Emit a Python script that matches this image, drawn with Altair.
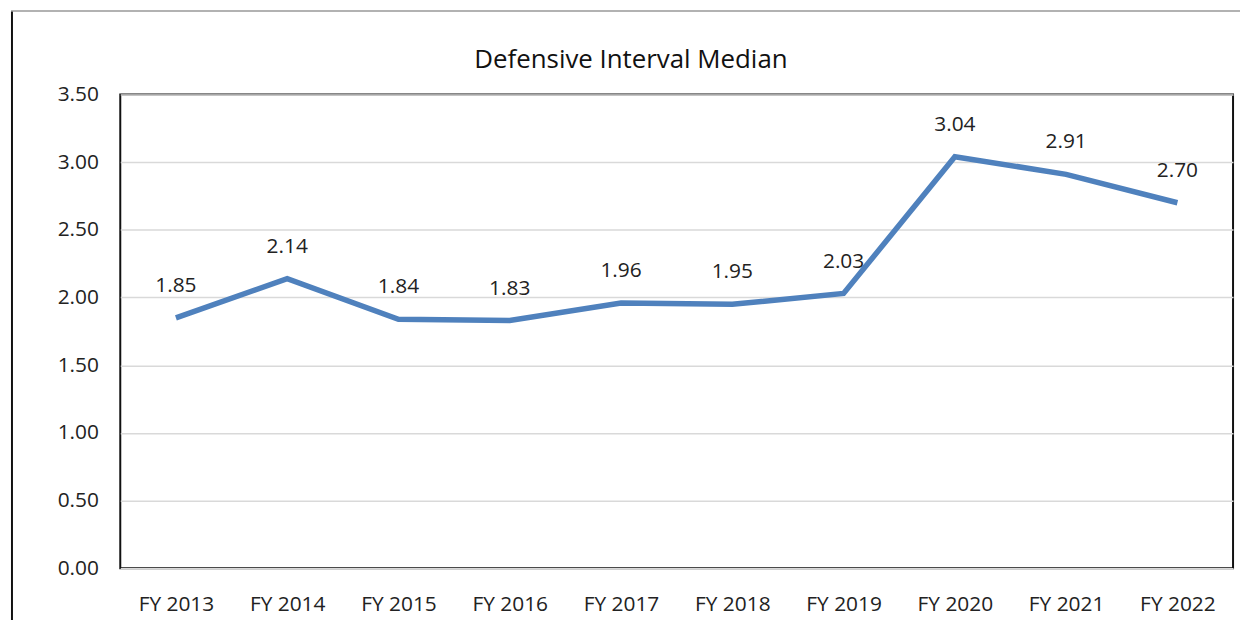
import altair as alt
import pandas as pd

years = ["FY 2013", "FY 2014", "FY 2015", "FY 2016", "FY 2017",
         "FY 2018", "FY 2019", "FY 2020", "FY 2021", "FY 2022"]
values = [1.85, 2.14, 1.84, 1.83, 1.96, 1.95, 2.03, 3.04, 2.91, 2.70]
y_ticks = [0, 0.5, 1.0, 1.5, 2.0, 2.5, 3.0, 3.5]
title_text = "Defensive Interval Median"

df = pd.DataFrame({"year": years, "value": values})

FONT = "Open Sans"
LINE_COLOR = "#4F81BD"

x_enc = alt.X("year:N", sort=years, title=None,
              axis=alt.Axis(labelAngle=0, labelFont=FONT, labelFontSize=21,
                            labelColor="#222222", labelPadding=25, ticks=False,
                            domain=False, grid=False))
y_enc = alt.Y("value:Q", title=None,
              scale=alt.Scale(domain=[0, 3.5], nice=False, zero=True),
              axis=alt.Axis(values=y_ticks, format=".2f", labelFont=FONT,
                            labelFontSize=21, labelColor="#222222",
                            labelPadding=22, ticks=False, domain=False,
                            grid=True, gridColor="#d9d9d9", gridWidth=1.5))

line = alt.Chart(df).mark_line(color=LINE_COLOR, strokeWidth=5.5).encode(x=x_enc, y=y_enc)

labels = alt.Chart(df).mark_text(font=FONT, fontSize=21, color="#222222",
                                 dy=-32, baseline="middle").encode(
    x=alt.X("year:N", sort=years),
    y=alt.Y("value:Q"),
    text=alt.Text("value:Q", format=".2f"),
)

one = alt.Data(values=[{"t": title_text}])
title = alt.Chart(one).mark_text(font=FONT, fontSize=26, color="#111111",
                                 baseline="middle", align="center").encode(
    x=alt.value(514), y=alt.value(-35), text="t:N")
left_border = alt.Chart(one).mark_rule(color="#111111", strokeWidth=2).encode(
    x=alt.value(-109), y=alt.value(-84), y2=alt.value(560))
top_border = alt.Chart(one).mark_rule(color="#999999", strokeWidth=1.5).encode(
    x=alt.value(-110), x2=alt.value(1130), y=alt.value(-84))

chart = alt.layer(line, labels, title, left_border, top_border).properties(
    width=1120,
    height=477,
    autosize=alt.AutoSizeParams(type="none"),
    padding={"left": 113, "top": 85, "right": 7, "bottom": 50},
).configure_view(stroke="#111111", strokeWidth=2)

chart.save("out.html", embed_options={"renderer": "svg", "actions": False})
